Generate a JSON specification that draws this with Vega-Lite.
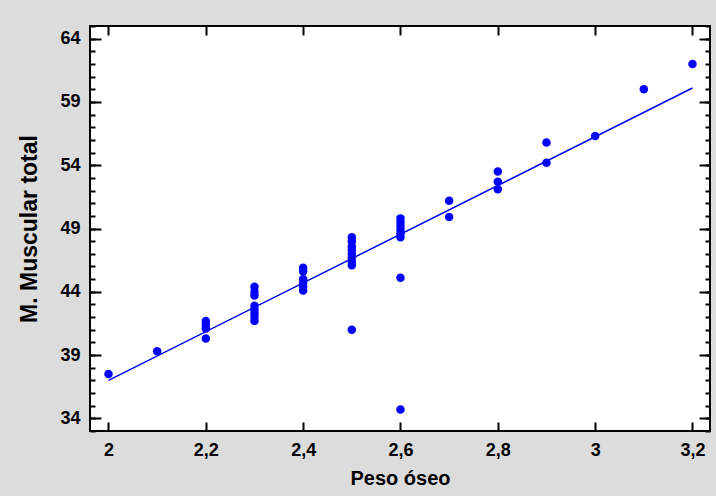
{
  "$schema": "https://vega.github.io/schema/vega-lite/v6.json",
  "autosize": {"type": "none"},
  "padding": {"left": 90, "top": 26, "right": 6, "bottom": 65},
  "width": 620,
  "height": 405,
  "background": "#dcdcdc",
  "config": {
    "view": {"fill": "#ffffff", "stroke": "#000000", "strokeWidth": 2},
    "axis": {
      "domain": false,
      "grid": false,
      "labelFont": "Liberation Sans",
      "labelFontWeight": "bold",
      "labelFontSize": 18,
      "labelColor": "#000000",
      "titleFont": "Liberation Sans",
      "titleFontWeight": "bold",
      "titleFontSize": 20,
      "titleColor": "#000000",
      "tickColor": "#000000",
      "tickWidth": 2
    }
  },
  "datasets": {
    "obs": [
      {"peso": 2.0, "musc": 37.5},
      {"peso": 2.1, "musc": 39.3},
      {"peso": 2.2, "musc": 41.7},
      {"peso": 2.2, "musc": 41.4},
      {"peso": 2.2, "musc": 41.1},
      {"peso": 2.2, "musc": 40.3},
      {"peso": 2.3, "musc": 44.4},
      {"peso": 2.3, "musc": 44.0},
      {"peso": 2.3, "musc": 43.7},
      {"peso": 2.3, "musc": 42.9},
      {"peso": 2.3, "musc": 42.6},
      {"peso": 2.3, "musc": 42.3},
      {"peso": 2.3, "musc": 42.0},
      {"peso": 2.3, "musc": 41.7},
      {"peso": 2.4, "musc": 45.9},
      {"peso": 2.4, "musc": 45.6},
      {"peso": 2.4, "musc": 45.0},
      {"peso": 2.4, "musc": 44.7},
      {"peso": 2.4, "musc": 44.4},
      {"peso": 2.4, "musc": 44.1},
      {"peso": 2.5, "musc": 48.3},
      {"peso": 2.5, "musc": 48.0},
      {"peso": 2.5, "musc": 47.6},
      {"peso": 2.5, "musc": 47.3},
      {"peso": 2.5, "musc": 47.0},
      {"peso": 2.5, "musc": 46.7},
      {"peso": 2.5, "musc": 46.4},
      {"peso": 2.5, "musc": 46.1},
      {"peso": 2.5, "musc": 41.0},
      {"peso": 2.6, "musc": 49.8},
      {"peso": 2.6, "musc": 49.5},
      {"peso": 2.6, "musc": 49.2},
      {"peso": 2.6, "musc": 48.9},
      {"peso": 2.6, "musc": 48.6},
      {"peso": 2.6, "musc": 48.3},
      {"peso": 2.6, "musc": 45.1},
      {"peso": 2.6, "musc": 34.7},
      {"peso": 2.7, "musc": 51.2},
      {"peso": 2.7, "musc": 49.9},
      {"peso": 2.8, "musc": 53.5},
      {"peso": 2.8, "musc": 52.7},
      {"peso": 2.8, "musc": 52.1},
      {"peso": 2.9, "musc": 55.8},
      {"peso": 2.9, "musc": 54.2},
      {"peso": 3.0, "musc": 56.3},
      {"peso": 3.1, "musc": 60.0},
      {"peso": 3.2, "musc": 62.0}
    ],
    "fit": [
      {"peso": 2.0, "musc": 37.0},
      {"peso": 3.2, "musc": 60.1}
    ]
  },
  "layer": [
    {
      "data": {"name": "obs"},
      "mark": {"type": "circle", "color": "#0000ff", "size": 72, "opacity": 1},
      "encoding": {
        "x": {
          "field": "peso", "type": "quantitative",
          "scale": {"domain": [1.962, 3.236], "nice": false, "zero": false},
          "axis": {
            "orient": "bottom", "title": "Peso óseo",
            "values": [2, 2.2, 2.4, 2.6, 2.8, 3, 3.2],
            "ticks": false, "labelPadding": 10, "titlePadding": 9,
            "format": ".1~f", "labelExpr": "replace(datum.label, '.', ',')"
          }
        },
        "y": {
          "field": "musc", "type": "quantitative",
          "scale": {"domain": [33, 65], "nice": false, "zero": false},
          "axis": {
            "orient": "left", "title": "M. Muscular total",
            "titleFontSize": 23,
            "values": [34, 39, 44, 49, 54, 59, 64],
            "ticks": false, "labelPadding": 10, "titlePadding": 18
          }
        }
      }
    },
    {
      "data": {"name": "fit"},
      "mark": {"type": "line", "color": "#0000ff", "strokeWidth": 1.5},
      "encoding": {
        "x": {
          "field": "peso", "type": "quantitative",
          "axis": {"orient": "top", "title": null, "labels": false,
                   "values": [2, 2.2, 2.4, 2.6, 2.8, 3, 3.2], "tickSize": -9}
        },
        "y": {
          "field": "musc", "type": "quantitative",
          "axis": {"orient": "right", "title": null, "labels": false,
                   "values": [34, 39, 44, 49, 54, 59, 64], "tickSize": -11}
        }
      }
    },
    {
      "data": {"name": "obs"},
      "mark": {"type": "circle", "opacity": 0},
      "encoding": {
        "x": {
          "field": "peso", "type": "quantitative",
          "axis": {"orient": "bottom", "title": null, "labels": false,
                   "values": [2, 2.2, 2.4, 2.6, 2.8, 3, 3.2], "tickSize": -9}
        },
        "y": {
          "field": "musc", "type": "quantitative",
          "axis": {"orient": "left", "title": null, "labels": false,
                   "values": [34, 39, 44, 49, 54, 59, 64], "tickSize": -11}
        }
      }
    },
    {
      "data": {"name": "obs"},
      "mark": {"type": "circle", "opacity": 0},
      "encoding": {
        "x": {"field": "peso", "type": "quantitative", "axis": null},
        "y": {
          "field": "musc", "type": "quantitative",
          "axis": {"orient": "left", "title": null, "labels": false,
                   "values": [33, 34, 35, 36, 37, 38, 39, 40, 41, 42, 43, 44, 45, 46, 47, 48, 49, 50, 51, 52, 53, 54, 55, 56, 57, 58, 59, 60, 61, 62, 63, 64, 65],
                   "tickSize": -5}
        }
      }
    },
    {
      "data": {"name": "obs"},
      "mark": {"type": "circle", "opacity": 0},
      "encoding": {
        "x": {"field": "peso", "type": "quantitative", "axis": null},
        "y": {
          "field": "musc", "type": "quantitative",
          "axis": {"orient": "right", "title": null, "labels": false,
                   "values": [33, 34, 35, 36, 37, 38, 39, 40, 41, 42, 43, 44, 45, 46, 47, 48, 49, 50, 51, 52, 53, 54, 55, 56, 57, 58, 59, 60, 61, 62, 63, 64, 65],
                   "tickSize": -5}
        }
      }
    }
  ],
  "resolve": {"axis": {"x": "independent", "y": "independent"}}
}
